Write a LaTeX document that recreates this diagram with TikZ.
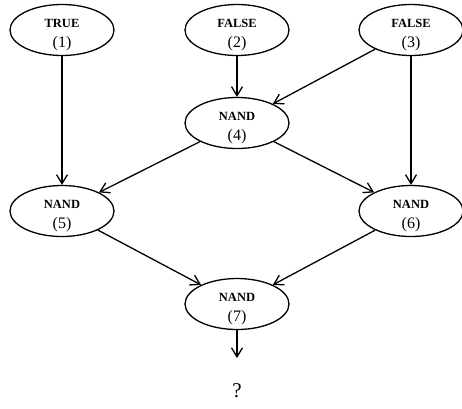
\documentclass[tikz,border=0pt]{standalone}
\usepackage{fontspec}
\setmainfont{Liberation Serif}
\usetikzlibrary{shapes.geometric,arrows.meta}
\begin{document}
\begin{tikzpicture}[x=1pt,y=-1pt,
  gate/.style={draw,ellipse,line width=1.3pt,minimum width=104pt,minimum height=51pt,inner sep=-12pt,align=center},
  wire/.style={line width=1.3pt,-{Straight Barb[length=9pt,width=11pt,line width=1.3pt]}}]
\useasboundingbox (0,0) rectangle (462,408);
% two-line gate label: operator name on top, step number below
\newcommand{\gatelabel}[2]{\rule{0pt}{18pt}{\fontsize{12.5}{12}\selectfont\bfseries #1}\\[8pt]{\fontsize{16}{12}\selectfont (#2)}}
\node[gate] (n1) at (62,30) {\gatelabel{TRUE}{1}};
\node[gate] (n2) at (237,30) {\gatelabel{FALSE}{2}};
\node[gate] (n3) at (411,30) {\gatelabel{FALSE}{3}};
\node[gate] (n4) at (237,123) {\gatelabel{NAND}{4}};
\node[gate] (n5) at (62,211) {\gatelabel{NAND}{5}};
\node[gate] (n6) at (411,211) {\gatelabel{NAND}{6}};
\node[gate] (n7) at (237,304) {\gatelabel{NAND}{7}};
\node[font=\fontsize{21}{21}\selectfont] (q) at (237,391) {?};
\coordinate (out) at (237,358);
\draw[wire] (n1) -- (n5);
\draw[wire] (n2) -- (n4);
\draw[wire] (n3) -- (n4);
\draw[wire] (n3) -- (n6);
\draw[wire] (n4) -- (n5);
\draw[wire] (n4) -- (n6);
\draw[wire] (n5) -- (n7);
\draw[wire] (n6) -- (n7);
\draw[wire] (n7) -- (out);
\end{tikzpicture}
\end{document}
